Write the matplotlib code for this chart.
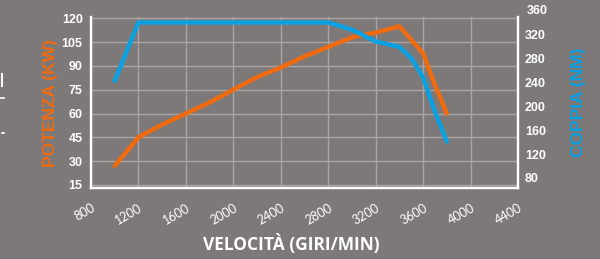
import matplotlib
matplotlib.use("Agg")
import matplotlib.pyplot as plt
from matplotlib.lines import Line2D

rpm_power = [1000, 1200, 1400, 1600, 1800, 2000, 2200, 2400, 2600, 2800, 3000, 3200, 3400, 3600, 3700, 3800]
power_kw = [27, 45, 53, 60, 67, 75, 83, 89, 96, 102, 108, 111, 115, 98, 78, 60]

rpm_torque = [1000, 1200, 2800, 3000, 3200, 3400, 3500, 3600, 3700, 3800]
torque_nm = [243, 341, 341, 329, 309, 300, 281, 249, 191, 141]

x_ticks = [800, 1200, 1600, 2000, 2400, 2800, 3200, 3600, 4000, 4400]
left_ticks = [15, 30, 45, 60, 75, 90, 105, 120]
right_ticks = [80, 120, 160, 200, 240, 280, 320, 360]

bg = "#7e7979"
grid_c = "#a9a5a5"
orange = "#f06a10"
blue = "#0aa0e2"

fig = plt.figure(figsize=(6, 2.59), dpi=100, facecolor=bg)
ax = fig.add_axes([0.1517, 0.274, 0.7116, 0.66])
ax.set_facecolor(bg)
ax2 = ax.twinx()

ax.plot(rpm_power, power_kw, color=orange, lw=3.2, solid_capstyle="round", solid_joinstyle="round")
ax2.plot(rpm_torque, torque_nm, color=blue, lw=3.2, solid_capstyle="round", solid_joinstyle="round")

ax.set_xlim(800, 4400)
ax.set_ylim(13, 120.8)
ax2.set_ylim(63, 350)

ax.set_xticks(x_ticks)
ax.set_xticklabels([str(t) for t in x_ticks], rotation=30, ha="right", rotation_mode="anchor",
                   color="white", fontsize=9, family="Lato")
ax.set_yticks(left_ticks)
ax.set_yticklabels([str(t) for t in left_ticks], color="white", fontsize=9, fontweight="bold",
                   family="Liberation Sans")
ax2.set_yticks(right_ticks[:-1])
ax2.set_yticklabels([str(t) for t in right_ticks[:-1]], color="white", fontsize=9, fontweight="bold",
                    family="Liberation Sans")
# top label of the right scale sits just above the axis
ax2.annotate(str(right_ticks[-1]), xy=(1, right_ticks[-1]), xycoords=("axes fraction", "data"),
             xytext=(6, 0), textcoords="offset points", va="center", ha="left",
             color="white", fontsize=9, fontweight="bold", family="Liberation Sans",
             annotation_clip=False)

ax.tick_params(axis="x", length=0, pad=10)
ax.tick_params(axis="y", length=0, pad=6)
ax2.tick_params(axis="y", length=0, pad=5)

ax.grid(True, color=grid_c, lw=1.0)
ax.set_axisbelow(True)

for a in (ax, ax2):
    a.spines["top"].set_visible(False)
    for s in ("left", "right", "bottom"):
        a.spines[s].set_color("white")
        a.spines[s].set_linewidth(1.6)

ax.set_xlabel("VELOCITÀ (GIRI/MIN)", color="white", fontsize=12.5, fontweight="bold",
              family="Open Sans")
ax.xaxis.set_label_coords(0.468, -0.27)
ax.set_ylabel("POTENZA (KW)", color=orange, fontsize=12.5, fontweight="bold",
              family="Liberation Sans", labelpad=3)
ax2.set_ylabel("COPPIA (NM)", color=blue, fontsize=12.5, fontweight="bold",
               family="Liberation Sans", labelpad=18)

# small clipped fragments at the left edge of the picture
fig.add_artist(Line2D([0.004, 0.004], [1 - 74 / 259, 1 - 86 / 259], color="white", lw=1.5))
fig.add_artist(Line2D([0.0, 0.007], [1 - 98 / 259, 1 - 98 / 259], color="white", lw=1.2))
fig.add_artist(Line2D([0.003, 0.006], [1 - 133 / 259, 1 - 133 / 259], color="white", lw=1.2))

fig.savefig("out.png", dpi=100, facecolor=bg)
